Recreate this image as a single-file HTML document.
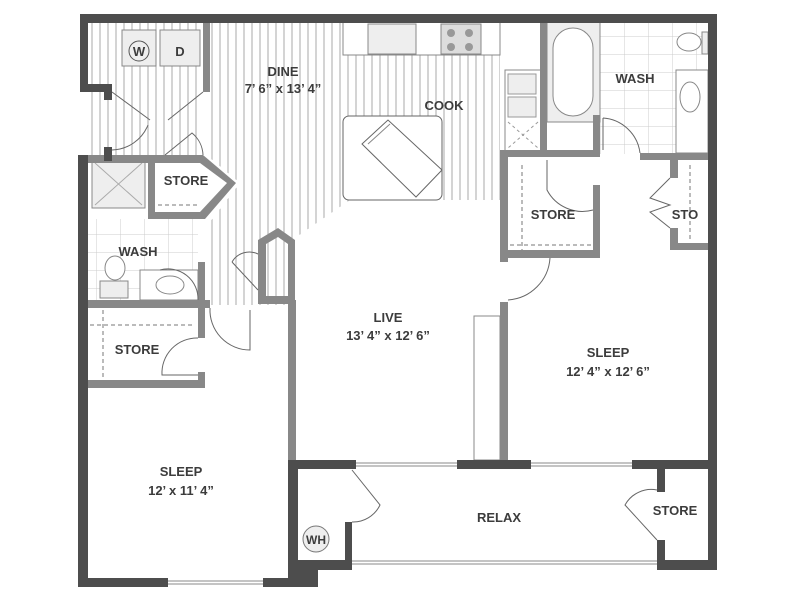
<!DOCTYPE html>
<html><head><meta charset="utf-8"><style>
html,body{margin:0;padding:0;background:#fff}
svg{display:block}
text{font-family:"Liberation Sans",sans-serif;font-weight:bold;fill:#3c3c3c;text-anchor:middle}
</style></head><body>
<svg width="800" height="600" viewBox="0 0 800 600" xmlns="http://www.w3.org/2000/svg">
<defs>
<pattern id="h" width="8" height="10" patternUnits="userSpaceOnUse"><rect width="8" height="10" fill="#fff"/><line x1="4" y1="0" x2="4" y2="10" stroke="#aaa" stroke-width="1"/></pattern>
<pattern id="t" width="24" height="18" patternUnits="userSpaceOnUse"><rect width="24" height="18" fill="#fff"/><path d="M0 0H24M0 0V18" stroke="#ccc" stroke-width="1" fill="none"/></pattern>
</defs>
<polygon points="88,22 203,22 203,155 88,155" fill="url(#h)"/>
<polygon points="210,22 500,22 500,200 350,200 295,238 295,305 210,305 210,222 240,183 210,158" fill="url(#h)"/>
<rect x="88" y="219" width="110" height="82" fill="url(#t)"/>
<rect x="600" y="22" width="108" height="132" fill="url(#t)"/>
<rect x="343" y="22" width="157" height="33" fill="#fff" stroke="#888"/>
<rect x="368" y="24" width="48" height="30" fill="#eee" stroke="#888"/>
<rect x="441" y="24" width="40" height="30" fill="#ddd" stroke="#888"/>
<g fill="#999"><circle cx="451" cy="33" r="4"/><circle cx="469" cy="33" r="4"/><circle cx="451" cy="47" r="4"/><circle cx="469" cy="47" r="4"/></g>
<rect x="505" y="70" width="37" height="82" fill="#fff" stroke="#888"/>
<rect x="508" y="74" width="28" height="20" fill="#eee" stroke="#999"/>
<rect x="508" y="97" width="28" height="20" fill="#eee" stroke="#999"/>
<path d="M508 122L538 148M538 122L508 148" stroke="#999" stroke-dasharray="3 3"/>
<rect x="343" y="116" width="99" height="84" rx="6" fill="#fff" stroke="#666"/>
<path d="M362 144L388 120L442 170L416 197Z" fill="#fff" stroke="#666"/>
<path d="M368 144L390 124" stroke="#888"/>
<rect x="122" y="30" width="34" height="36" fill="#eee" stroke="#888"/>
<rect x="160" y="30" width="40" height="36" fill="#eee" stroke="#888"/>
<circle cx="139" cy="51" r="10" fill="#eee" stroke="#555"/>
<text x="139" y="56" font-size="13">W</text><text x="180" y="56" font-size="13">D</text>
<rect x="547" y="22" width="53" height="100" fill="#eee" stroke="#888"/>
<rect x="553" y="28" width="40" height="88" rx="20" fill="#fff" stroke="#888"/>
<ellipse cx="689" cy="42" rx="12" ry="9" fill="#fff" stroke="#888"/>
<rect x="702" y="32" width="6" height="22" fill="#eee" stroke="#888"/>
<rect x="676" y="70" width="32" height="83" fill="#fff" stroke="#888"/>
<ellipse cx="690" cy="97" rx="10" ry="15" fill="#fff" stroke="#888"/>
<rect x="92" y="160" width="53" height="48" fill="#eee" stroke="#888"/>
<path d="M95 163L142 205M142 163L95 205" stroke="#aaa"/>
<ellipse cx="115" cy="268" rx="10" ry="12" fill="#fff" stroke="#888"/>
<rect x="100" y="281" width="28" height="17" fill="#eee" stroke="#888"/>
<rect x="140" y="270" width="58" height="30" fill="#fff" stroke="#888"/>
<ellipse cx="170" cy="285" rx="14" ry="9" fill="#fff" stroke="#888"/>
<circle cx="316" cy="539" r="13" fill="#eee" stroke="#777"/>
<text x="316" y="544" font-size="12">WH</text>
<rect x="474" y="316" width="26" height="144" fill="#fff" stroke="#888"/>
<g fill="#888">
<rect x="203" y="22" width="7" height="70"/>
<polygon points="80,155 203,155 236,183 205,219 148,219 148,212 200,212 227,183 200,163 88,163"/>
<rect x="148" y="160" width="7" height="58"/>
<rect x="198" y="262" width="7" height="76"/>
<rect x="88" y="300" width="122" height="8"/>
<rect x="88" y="380" width="117" height="8"/>
<rect x="198" y="372" width="7" height="16"/>
<polygon points="258,240 278,228 295,240 295,300 288,300 288,244 278,237 266,244 266,300 258,300"/>
<rect x="258" y="296" width="37" height="8"/>
<rect x="288" y="300" width="8" height="160"/>
<rect x="540" y="22" width="7" height="132"/>
<rect x="500" y="150" width="100" height="7"/>
<rect x="593" y="115" width="7" height="40"/>
<rect x="593" y="185" width="7" height="73"/>
<rect x="500" y="150" width="8" height="112"/>
<rect x="500" y="250" width="100" height="8"/>
<rect x="640" y="153" width="68" height="7"/>
<rect x="670" y="153" width="8" height="25"/>
<rect x="670" y="228" width="8" height="22"/>
<rect x="670" y="243" width="38" height="7"/>
<rect x="500" y="302" width="8" height="160"/>
</g>
<g stroke="#777" stroke-dasharray="4 3" fill="none">
<path d="M158 205H200"/><path d="M90 325H195M103 310V380"/>
<path d="M510 245H593M522 165V250"/><path d="M690 165V240"/>
</g>
<g fill="none" stroke="#666">
<path d="M112 92L150 120M203 92L168 120"/>
<path d="M112 150A40 40 0 0 0 148 125"/>
<path d="M165 155L192 133A30 30 0 0 1 203 155"/>
<path d="M160 270A30 30 0 0 1 198 300"/>
<path d="M210 308A40 40 0 0 0 250 350V310"/>
<path d="M198 338A35 35 0 0 0 162 375H198"/>
<path d="M232 262L258 290M232 262A20 20 0 0 1 258 254"/>
<path d="M547 160V190A40 40 0 0 0 593 210"/>
<path d="M603 118V150M603 118A40 40 0 0 1 640 153"/>
<path d="M508 300A45 45 0 0 0 550 258"/>
<path d="M670 178L650 198L670 205L650 212L670 228"/>
<path d="M352 470L380 505A30 30 0 0 1 352 522"/>
<path d="M657 490A30 30 0 0 0 625 505L657 540"/>
</g>
<g stroke="#888" fill="none">
<path d="M168 581H263M168 584H263"/>
<path d="M356 463H457M356 466H457M531 463H632M531 466H632"/>
<path d="M352 561H657M352 564H657"/>
</g>
<g fill="#4d4d4d">
<rect x="80" y="14" width="637" height="9"/>
<rect x="80" y="14" width="8" height="78"/>
<rect x="80" y="84" width="32" height="8"/>
<rect x="104" y="84" width="8" height="16"/>
<rect x="78" y="155" width="10" height="432"/>
<rect x="104" y="147" width="8" height="14"/>
<rect x="708" y="14" width="9" height="556"/>
<rect x="78" y="578" width="90" height="9"/>
<rect x="263" y="578" width="35" height="9"/>
<rect x="288" y="460" width="10" height="127"/>
<rect x="288" y="460" width="68" height="9"/>
<rect x="298" y="560" width="20" height="27"/>
<rect x="345" y="522" width="7" height="48"/>
<rect x="298" y="560" width="54" height="10"/>
<rect x="457" y="460" width="74" height="9"/>
<rect x="632" y="460" width="80" height="9"/>
<rect x="657" y="468" width="8" height="24"/>
<rect x="657" y="540" width="8" height="30"/>
<rect x="657" y="560" width="60" height="10"/>
</g>
<g font-size="13">
<text x="283" y="76">DINE</text><text x="283" y="93">7’ 6” x 13’ 4”</text>
<text x="444" y="110">COOK</text>
<text x="635" y="83">WASH</text>
<text x="186" y="185">STORE</text>
<text x="138" y="256">WASH</text>
<text x="553" y="219">STORE</text>
<text x="685" y="219">STO</text>
<text x="137" y="354">STORE</text>
<text x="388" y="322">LIVE</text><text x="388" y="340">13’ 4” x 12’ 6”</text>
<text x="608" y="357">SLEEP</text><text x="608" y="376">12’ 4” x 12’ 6”</text>
<text x="181" y="476">SLEEP</text><text x="181" y="495">12’ x 11’ 4”</text>
<text x="499" y="522">RELAX</text>
<text x="675" y="515">STORE</text>
</g>
</svg>
</body></html>
